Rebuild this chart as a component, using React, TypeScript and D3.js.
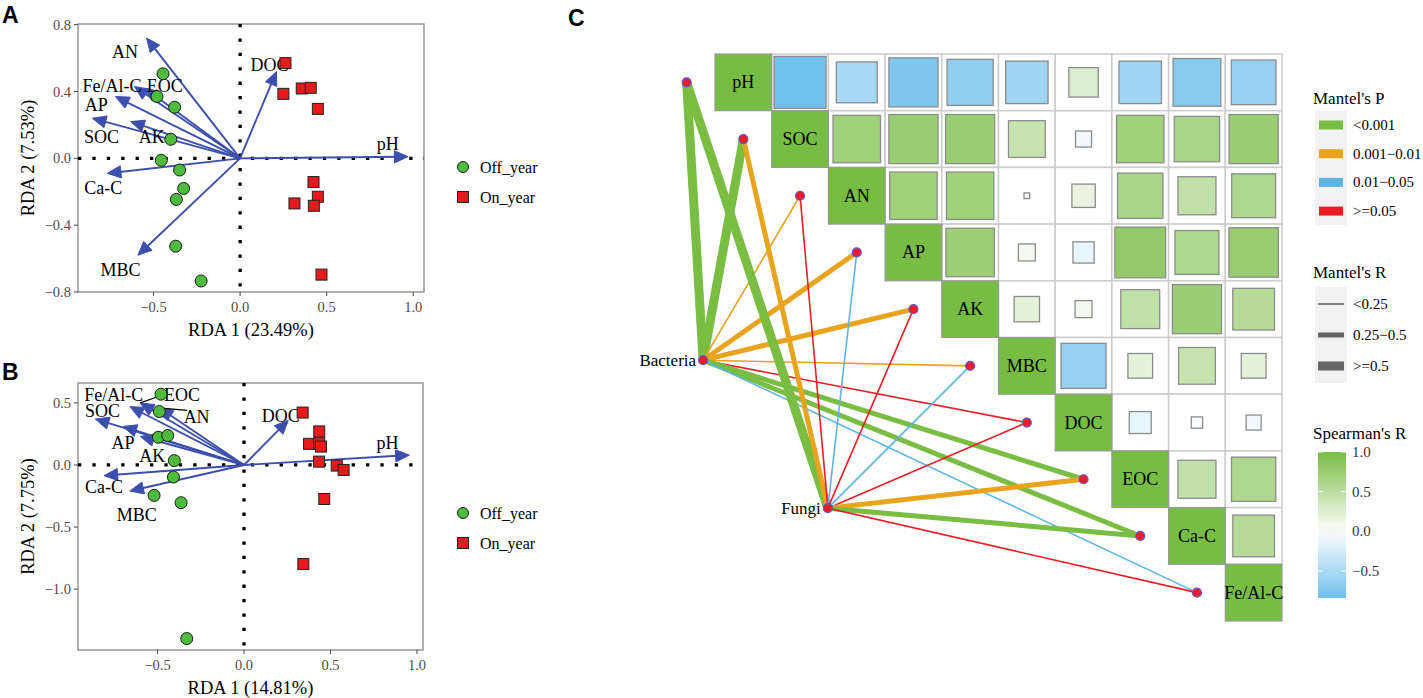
import React from 'react';
import * as d3 from 'd3';

const SERIF = '"Liberation Serif", "Times New Roman", serif';
const SANS = '"Liberation Sans", Arial, sans-serif';

const envVars = ['pH', 'SOC', 'AN', 'AP', 'AK', 'MBC', 'DOC', 'EOC', 'Ca-C', 'Fe/Al-C'];

// panel A (RDA, bacteria)
const aArrowX = [0.97, -0.853, -0.54, -0.72, -0.632, -0.59, 0.21, -0.55, -0.767, -0.61];
const aArrowY = [0.01, 0.24, 0.72, 0.37, 0.22, -0.58, 0.52, 0.42, -0.09, 0.43];
const aLabelX = [0.853, -0.80, -0.665, -0.83, -0.51, -0.69, 0.17, -0.435, -0.79, -0.74];
const aLabelY = [0.085, 0.125, 0.635, 0.32, 0.125, -0.67, 0.557, 0.43, -0.18, 0.43];
const aOffX = [-0.445, -0.48, -0.378, -0.40, -0.455, -0.349, -0.326, -0.368, -0.372, -0.225];
const aOffY = [0.506, 0.37, 0.306, 0.114, -0.012, -0.07, -0.18, -0.246, -0.526, -0.734];
const aOnX = [0.262, 0.25, 0.356, 0.408, 0.449, 0.424, 0.449, 0.314, 0.426, 0.47];
const aOnY = [0.57, 0.386, 0.418, 0.422, 0.296, -0.142, -0.23, -0.27, -0.284, -0.696];

// panel B (RDA, fungi)
const bArrowX = [0.956, -0.86, -0.49, -0.70, -0.60, -0.66, 0.256, -0.60, -0.81, -0.66];
const bArrowY = [0.08, 0.37, 0.46, 0.31, 0.23, -0.21, 0.36, 0.50, -0.086, 0.47];
const bLabelX = [0.829, -0.819, -0.274, -0.70, -0.53, -0.62, 0.212, -0.358, -0.81, -0.753];
const bLabelY = [0.18, 0.436, 0.39, 0.18, 0.073, -0.40, 0.398, 0.564, -0.18, 0.566];
const bOffX = [-0.48, -0.49, -0.495, -0.441, -0.403, -0.408, -0.52, -0.364, -0.331];
const bOffY = [0.57, 0.43, 0.223, 0.237, 0.035, -0.097, -0.245, -0.304, -1.398];
const bOnX = [0.339, 0.435, 0.376, 0.435, 0.445, 0.434, 0.536, 0.576, 0.464, 0.343];
const bOnY = [0.422, 0.27, 0.17, 0.175, 0.148, 0.027, -0.005, -0.04, -0.274, -0.798];
// ggrepel leader segments: variable -> label anchor
const bLeaderVar = ['EOC', 'AN'];
const bLeaderToX = [-0.486, -0.33];
const bLeaderToY = [0.555, 0.44];

// panel C: spearman upper triangle, each row starts at the diagonal
const corrRows = [
  [1, -0.84, -0.52, -0.75, -0.66, -0.56, 0.27, -0.56, -0.71, -0.62],
  [1, 0.70, 0.75, 0.75, 0.42, -0.08, 0.70, 0.64, 0.75],
  [1, 0.70, 0.70, 0.01, 0.17, 0.64, 0.45, 0.60],
  [1, 0.73, 0.09, -0.14, 0.80, 0.60, 0.76],
  [1, 0.20, 0.09, 0.47, 0.75, 0.54],
  [1, -0.63, 0.19, 0.42, 0.19],
  [1, -0.15, -0.04, -0.07],
  [1, 0.45, 0.61],
  [1, 0.54],
  [1],
];

const mantelSpec = ['Bacteria', 'Fungi'];
const pLevels = ['<0.001', '0.001\u22120.01', '0.01\u22120.05', '>=0.05'];
const rLevels = ['<0.25', '0.25\u22120.5', '>=0.5'];
// indices into pLevels / rLevels, one per env variable
const bacteriaP = [0, 0, 1, 1, 1, 1, 3, 0, 0, 2];
const bacteriaR = [2, 2, 0, 1, 1, 0, 0, 1, 1, 0];
const fungiP = [0, 1, 3, 2, 3, 2, 3, 1, 0, 3];
const fungiR = [2, 1, 0, 0, 0, 0, 0, 1, 1, 0];
// node layout in cell units (col, row)
const nodeCol = [-0.21, 1.99];
const nodeRow = [5.4, 8.01];

const pColors = ['#79bd43', '#e8a31f', '#5db5e6', '#ee1d25'];
const rWidths = [1.6, 5, 9];
const spearTicks = [1.0, 0.5, 0.0, -0.5];

const GREEN_PT = '#4dbb3c';
const RED_PT = '#e41a1c';
const ARROW = '#3d4fac';

type RdaProps = {
  letter: string;
  letterY: number;
  box: { x0: number; x1: number; y0: number; y1: number };
  xDomain: [number, number];
  yDomain: [number, number];
  xTicks: number[];
  yTicks: number[];
  arrowX: number[]; arrowY: number[];
  labelX: number[]; labelY: number[];
  offX: number[]; offY: number[];
  onX: number[]; onY: number[];
  xTitle: string; yTitle: string;
  legendY: number;
  leaders?: { v: string; x: number; y: number }[];
};

const fmt = (v: number) => d3.format('.1f')(v).replace('-', '\u2212');

function arrowHead(x1: number, y1: number, x2: number, y2: number, len = 15, ang = 24) {
  const a = Math.atan2(y2 - y1, x2 - x1);
  const r = (ang * Math.PI) / 180;
  const p1 = [x2 - len * Math.cos(a - r), y2 - len * Math.sin(a - r)];
  const p2 = [x2 - len * Math.cos(a + r), y2 - len * Math.sin(a + r)];
  return `${x2},${y2} ${p1[0]},${p1[1]} ${p2[0]},${p2[1]}`;
}

function RdaPanel(p: RdaProps) {
  const { box } = p;
  const x = d3.scaleLinear().domain(p.xDomain).range([box.x0, box.x1]);
  const y = d3.scaleLinear().domain(p.yDomain).range([box.y1, box.y0]);
  const ox = x(0), oy = y(0);
  return (
    <g>
      <text x={2} y={p.letterY} fontFamily={SANS} fontWeight="bold" fontSize={23}>{p.letter}</text>
      <rect x={box.x0} y={box.y0} width={box.x1 - box.x0} height={box.y1 - box.y0}
        fill="white" stroke="#8f8f8f" strokeWidth={1.4} />
      {p.yTicks.map(t => (
        <g key={'y' + t}>
          <line x1={box.x0 - 4} x2={box.x0} y1={y(t)} y2={y(t)} stroke="#444" strokeWidth={1} />
          <text x={box.x0 - 7} y={y(t)} textAnchor="end" dominantBaseline="central"
            fontFamily={SERIF} fontSize={14.5} fill="#4d4d4d">{fmt(t)}</text>
        </g>
      ))}
      {p.xTicks.map(t => (
        <g key={'x' + t}>
          <line x1={x(t)} x2={x(t)} y1={box.y1} y2={box.y1 + 4} stroke="#444" strokeWidth={1} />
          <text x={x(t)} y={box.y1 + 15} textAnchor="middle" dominantBaseline="central"
            fontFamily={SERIF} fontSize={14.5} fill="#4d4d4d">{fmt(t)}</text>
        </g>
      ))}
      <text x={(box.x0 + box.x1) / 2} y={box.y1 + 38} textAnchor="middle" dominantBaseline="central"
        fontFamily={SERIF} fontSize={18.5}>{p.xTitle}</text>
      <text transform={`translate(${box.x0 - 50},${(box.y0 + box.y1) / 2}) rotate(-90)`}
        textAnchor="middle" dominantBaseline="central" fontFamily={SERIF} fontSize={18.5}>{p.yTitle}</text>

      <line x1={box.x0} x2={box.x1} y1={oy} y2={oy} stroke="black" strokeWidth={3.3} strokeDasharray="3.3 11.1" />
      <line x1={ox} x2={ox} y1={box.y0} y2={box.y1} stroke="black" strokeWidth={3.3} strokeDasharray="3.3 11.1" />

      {envVars.map((v, i) => {
        const tx = x(p.arrowX[i]), ty = y(p.arrowY[i]);
        const a = Math.atan2(ty - oy, tx - ox);
        return (
          <g key={'a' + v}>
            <line x1={ox} y1={oy} x2={tx - 8 * Math.cos(a)} y2={ty - 8 * Math.sin(a)} stroke={ARROW} strokeWidth={1.9} />
            <polygon points={arrowHead(ox, oy, tx, ty)} fill={ARROW} stroke={ARROW} strokeWidth={1} />
          </g>
        );
      })}
      {(p.leaders || []).map(l => {
        const i = envVars.indexOf(l.v);
        return <line key={'l' + l.v} x1={x(p.arrowX[i])} y1={y(p.arrowY[i])} x2={x(l.x)} y2={y(l.y)} stroke="black" strokeWidth={1.2} />;
      })}
      {envVars.map((v, i) => (
        <text key={'t' + v} x={x(p.labelX[i])} y={y(p.labelY[i])} textAnchor="middle" dominantBaseline="central"
          fontFamily={SERIF} fontSize={18}>{v}</text>
      ))}
      {p.offX.map((v, i) => (
        <circle key={'o' + i} cx={x(v)} cy={y(p.offY[i])} r={6} fill={GREEN_PT} stroke="#1a1a1a" strokeWidth={1} />
      ))}
      {p.onX.map((v, i) => (
        <rect key={'n' + i} x={x(v) - 5.5} y={y(p.onY[i]) - 5.5} width={11} height={11} fill={RED_PT} stroke="#222" strokeWidth={1} />
      ))}

      <circle cx={463} cy={p.legendY} r={5.5} fill={GREEN_PT} stroke="#1a1a1a" strokeWidth={1} />
      <text x={480} y={p.legendY} dominantBaseline="central" fontFamily={SERIF} fontSize={16}>Off_year</text>
      <rect x={457.5} y={p.legendY + 30 - 5.5} width={11} height={11} fill={RED_PT} stroke="#222" strokeWidth={1} />
      <text x={480} y={p.legendY + 30} dominantBaseline="central" fontFamily={SERIF} fontSize={16}>On_year</text>
    </g>
  );
}

function MantelPanel() {
  const band = d3.scaleBand<string>().domain(envVars).range([715, 1282]);
  const bw = band.bandwidth();
  const cx = d3.scaleLinear().domain([0, envVars.length]).range([715, 1282]);
  const cy = d3.scaleLinear().domain([0, envVars.length]).range([54, 621]);
  const fill = d3.scaleLinear<string>().domain([-1, 0, 1]).range(['#56b4e9', '#ffffff', '#77bd43']);

  const cells: { r: number; c: number; v: number }[] = [];
  corrRows.forEach((row, r) => row.forEach((v, k) => cells.push({ r, c: r + k, v })));

  const links: { s: number; i: number; p: number; w: number }[] = [];
  envVars.forEach((_, i) => links.push({ s: 0, i, p: bacteriaP[i], w: bacteriaR[i] }));
  envVars.forEach((_, i) => links.push({ s: 1, i, p: fungiP[i], w: fungiR[i] }));

  const end = (i: number) => [cx(i - 0.5), cy(i + 0.5)];

  const bar = d3.scaleLinear().domain([1, -0.84]).range([452, 598]);
  const barStops = d3.range(0, 1.0001, 0.1).map(t => bar.invert(452 + t * 146));

  return (
    <g>
      <text x={568} y={26} fontFamily={SANS} fontWeight="bold" fontSize={23}>C</text>
      <defs>
        <linearGradient id="spear" x1="0" y1="0" x2="0" y2="1">
          {barStops.map((v, k) => (
            <stop key={k} offset={`${k * 10}%`} stopColor={fill(v)} />
          ))}
        </linearGradient>
      </defs>
      {cells.filter(d => d.c > d.r).map(d => (
        <rect key={`g${d.r}-${d.c}`} x={band(envVars[d.c])} y={cy(d.r)} width={bw} height={bw}
          fill="white" stroke="#cccccc" strokeWidth={1.5} />
      ))}
      {cells.map(d => {
        const diag = d.c === d.r;
        const s = diag ? bw : bw * Math.sqrt(Math.abs(d.v));
        const x0 = (band(envVars[d.c]) as number) + (bw - s) / 2;
        const y0 = cy(d.r) + (bw - s) / 2;
        return (
          <rect key={`s${d.r}-${d.c}`} x={x0} y={y0} width={s} height={s} fill={fill(d.v)}
            stroke={diag ? '#9a9a9a' : '#8c8c8c'} strokeWidth={diag ? 1.2 : 1.3} />
        );
      })}
      {envVars.map((v, i) => (
        <text key={'d' + v} x={(band(v) as number) + bw / 2} y={cy(i) + bw / 2} textAnchor="middle"
          dominantBaseline="central" fontFamily={SERIF} fontSize={18}>{v}</text>
      ))}

      {links.map((l, k) => {
        const [ex, ey] = end(l.i);
        return (
          <line key={'k' + k} x1={cx(nodeCol[l.s])} y1={cy(nodeRow[l.s])} x2={ex} y2={ey}
            stroke={pColors[l.p]} strokeWidth={rWidths[l.w]} />
        );
      })}
      {envVars.map((v, i) => {
        const [ex, ey] = end(i);
        return <circle key={'e' + v} cx={ex} cy={ey} r={4.5} fill="#ec1c2a" stroke="#5a5ad0" strokeWidth={1.2} />;
      })}
      {mantelSpec.map((s, k) => (
        <g key={s}>
          <circle cx={cx(nodeCol[k])} cy={cy(nodeRow[k])} r={4.5} fill="#ec1c2a" stroke="#5a5ad0" strokeWidth={1.2} />
          <text x={cx(nodeCol[k]) - 7} y={cy(nodeRow[k])} textAnchor="end" dominantBaseline="central"
            fontFamily={SERIF} fontSize={17}>{s}</text>
        </g>
      ))}

      {/* legends */}
      <text x={1313} y={98} dominantBaseline="central" fontFamily={SERIF} fontSize={17}>Mantel's P</text>
      <rect x={1315} y={111} width={32} height={114} fill="#f2f2f2" />
      {pLevels.map((lv, k) => (
        <g key={lv}>
          <rect x={1319} y={125 + k * 28.7 - 4.5} width={24} height={9} fill={pColors[k]} />
          <text x={1353} y={125 + k * 28.7} dominantBaseline="central" fontFamily={SERIF} fontSize={15}>{lv}</text>
        </g>
      ))}
      <text x={1313} y={272} dominantBaseline="central" fontFamily={SERIF} fontSize={17}>Mantel's R</text>
      <rect x={1315} y={287} width={32} height={96} fill="#f2f2f2" />
      {rLevels.map((lv, k) => (
        <g key={lv}>
          <line x1={1318} x2={1344} y1={304 + k * 31} y2={304 + k * 31} stroke="#666" strokeWidth={rWidths[k]} />
          <text x={1353} y={304 + k * 31} dominantBaseline="central" fontFamily={SERIF} fontSize={15}>{lv}</text>
        </g>
      ))}
      <text x={1313} y={433} dominantBaseline="central" fontFamily={SERIF} fontSize={17}>Spearman's R</text>
      <rect x={1318} y={452} width={28} height={146} fill="url(#spear)" />
      {spearTicks.map(t => (
        <g key={'st' + t}>
          <line x1={1318} x2={1323} y1={bar(t)} y2={bar(t)} stroke="white" strokeWidth={1} />
          <line x1={1341} x2={1346} y1={bar(t)} y2={bar(t)} stroke="white" strokeWidth={1} />
          <text x={1352} y={bar(t)} dominantBaseline="central" fontFamily={SERIF} fontSize={15} fill="#333">{fmt(t)}</text>
        </g>
      ))}
    </g>
  );
}

export default function App() {
  return (
    <svg width={1423} height={698} style={{ position: 'absolute', left: 0, top: 0, background: 'white' }}>
      <RdaPanel letter="A" letterY={23} box={{ x0: 78, x1: 424, y0: 24, y1: 292 }}
        xDomain={[-0.936, 1.062]} yDomain={[-0.8, 0.804]}
        xTicks={[-0.5, 0, 0.5, 1]} yTicks={[-0.8, -0.4, 0, 0.4, 0.8]}
        arrowX={aArrowX} arrowY={aArrowY} labelX={aLabelX} labelY={aLabelY}
        offX={aOffX} offY={aOffY} onX={aOnX} onY={aOnY}
        xTitle="RDA 1 (23.49%)" yTitle="RDA 2 (7.53%)" legendY={167} />
      <RdaPanel letter="B" letterY={380} box={{ x0: 78, x1: 423, y0: 383, y1: 650 }}
        xDomain={[-0.96, 1.035]} yDomain={[-1.49, 0.66]}
        xTicks={[-0.5, 0, 0.5, 1]} yTicks={[-1, -0.5, 0, 0.5]}
        arrowX={bArrowX} arrowY={bArrowY} labelX={bLabelX} labelY={bLabelY}
        offX={bOffX} offY={bOffY} onX={bOnX} onY={bOnY}
        xTitle="RDA 1 (14.81%)" yTitle="RDA 2 (7.75%)" legendY={513}
        leaders={bLeaderVar.map((v, i) => ({ v, x: bLeaderToX[i], y: bLeaderToY[i] }))} />
      <MantelPanel />
    </svg>
  );
}
